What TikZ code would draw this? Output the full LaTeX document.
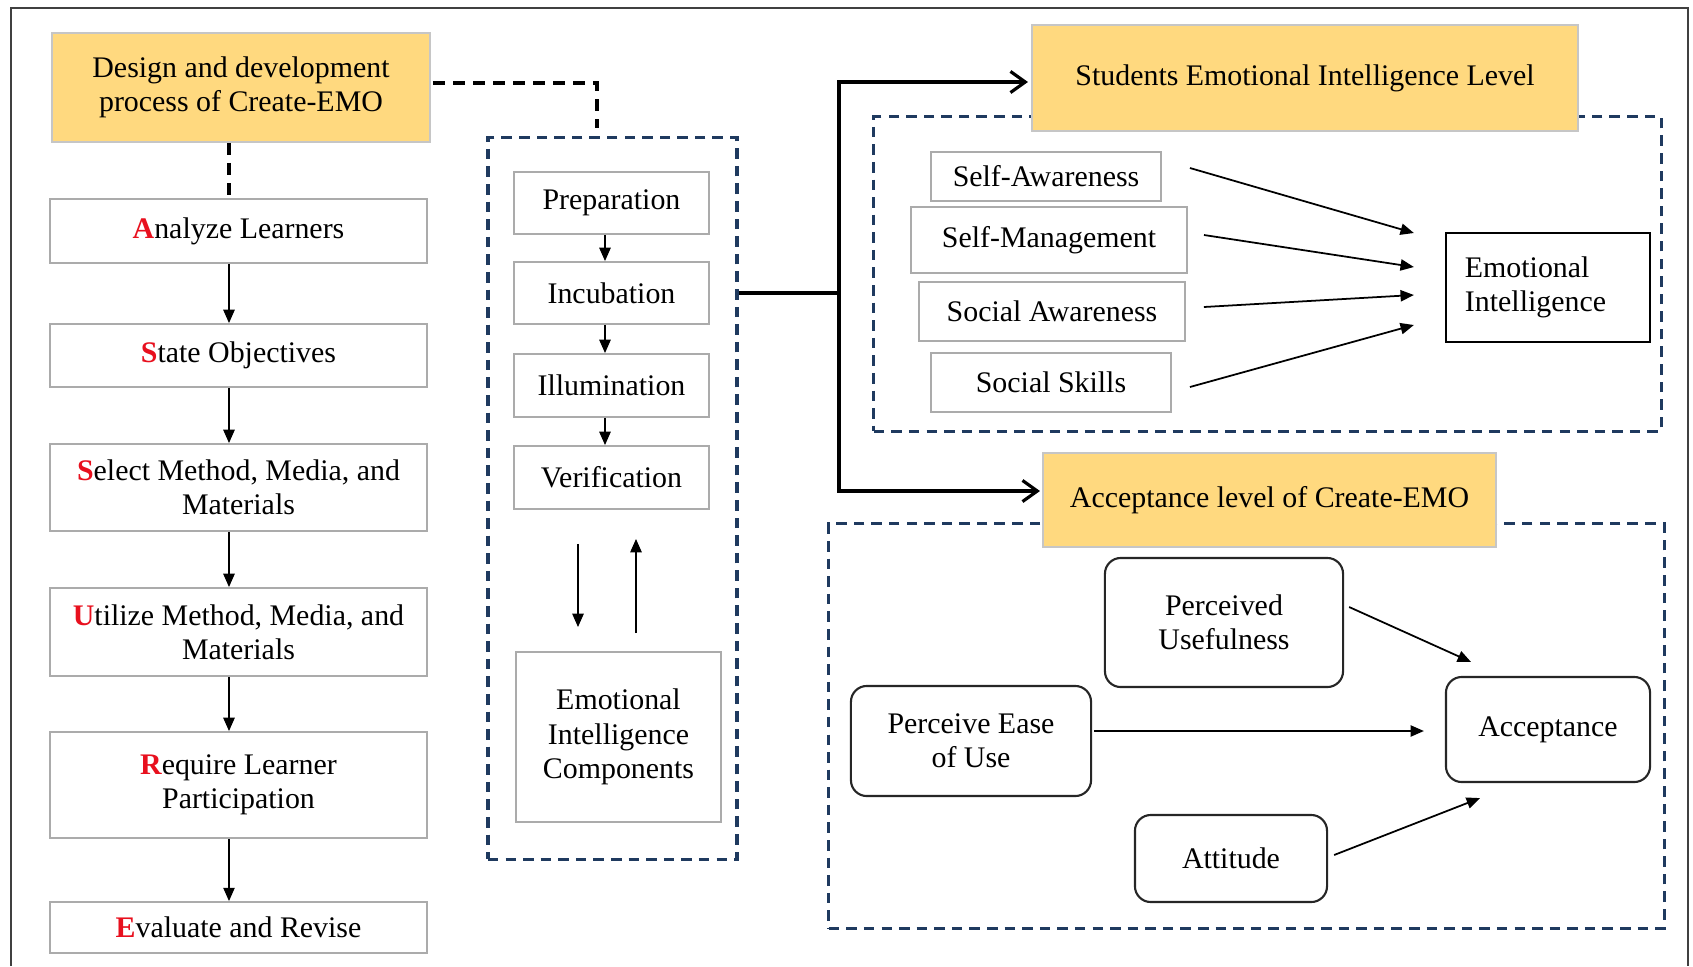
\documentclass[tikz,border=0pt]{standalone}
\usepackage{fontspec}
\setmainfont{Liberation Serif}
\usetikzlibrary{arrows.meta,calc}
\definecolor{gold}{HTML}{FFD97F}
\definecolor{navy}{HTML}{1F3A5F}
\definecolor{redA}{HTML}{E8101E}
\definecolor{boxgray}{HTML}{ABABAB}
\newcommand{\ri}[1]{\textbf{\color{redA}#1}}
\begin{document}
\begin{tikzpicture}[x=0.01cm,y=-0.01cm,
  font=\fontsize{8.5}{9.8}\selectfont,
  gbox/.style={draw=boxgray, line width=0.5pt, fill=white, inner sep=0pt, align=center},
  ybox/.style={draw=gray!45, line width=0.5pt, fill=gold, inner sep=0pt, align=center},
  rbox/.style={draw=black!85, line width=0.6pt, rounded corners=4.5pt, fill=white, inner sep=0pt, align=center},
  kbox/.style={draw=black, line width=0.6pt, fill=white, inner sep=0pt},
  navydash/.style={draw=navy, line width=0.9pt, dash pattern=on 3pt off 2pt, inner sep=0pt},
  arr/.style={-{Triangle[length=3.8pt,width=3.2pt]}, line width=0.5pt},
  thk/.style={line width=0.9pt},
  thkarr/.style={thk, -{Straight Barb[length=4.2pt,width=6pt]}},
  kdash/.style={line width=0.9pt, dash pattern=on 3.4pt off 2.3pt}]
\useasboundingbox (0,0) rectangle (1693,966);
% frame
\draw[line width=0.6pt, black!75] (11,966) -- (11,8) -- (1688,8) -- (1688,966);

% left column
\node[ybox, minimum width=3.78cm, minimum height=1.09cm] (design) at (241,87.5) {Design and development\\process of Create-EMO};
\node[gbox, minimum width=3.77cm, minimum height=0.64cm] (an) at (238.5,231) {\ri{A}nalyze Learners};
\node[gbox, minimum width=3.77cm, minimum height=0.63cm] (so) at (238.5,355.5) {\ri{S}tate Objectives};
\node[gbox, minimum width=3.77cm, minimum height=0.87cm] (sm1) at (238.5,487.5) {\ri{S}elect Method, Media, and\\Materials};
\node[gbox, minimum width=3.77cm, minimum height=0.88cm] (um) at (238.5,632) {\ri{U}tilize Method, Media, and\\Materials};
\node[gbox, minimum width=3.77cm, minimum height=1.06cm] (rl) at (238.5,785) {\ri{R}equire Learner\\Participation};
\node[gbox, minimum width=3.77cm, minimum height=0.51cm] (er) at (238.5,927.5) {\ri{E}valuate and Revise};
\coordinate (lx) at (229,0);
\draw[kdash] (design.south -| lx) -- (an.north -| lx);
\draw[arr] (an.south -| lx) -- (so.north -| lx);
\draw[arr] (so.south -| lx) -- (sm1.north -| lx);
\draw[arr] (sm1.south -| lx) -- (um.north -| lx);
\draw[arr] (um.south -| lx) -- (rl.north -| lx);
\draw[arr] (rl.south -| lx) -- (er.north -| lx);

% middle
\node[navydash, minimum width=2.49cm, minimum height=7.21cm] (mid) at (612.5,498.5) {};
\coordinate (dx) at (597,128);
\draw[kdash] ($(design.east)+(2,-4.5)$) -| (dx);
\node[gbox, minimum width=1.95cm, minimum height=0.62cm] (prep) at (611.5,203) {Preparation};
\node[gbox, minimum width=1.95cm, minimum height=0.62cm] (incu) at (611.5,293) {Incubation};
\node[gbox, minimum width=1.95cm, minimum height=0.63cm] (illu) at (611.5,385.5) {Illumination};
\node[gbox, minimum width=1.95cm, minimum height=0.63cm] (veri) at (611.5,477.5) {Verification};
\node[gbox, minimum width=2.05cm, minimum height=1.70cm] (eic) at (618.5,737) {Emotional\\Intelligence\\Components};
\coordinate (mx) at (605,0);
\draw[arr] (prep.south -| mx) -- (incu.north -| mx);
\draw[arr] (incu.south -| mx) -- (illu.north -| mx);
\draw[arr] (illu.south -| mx) -- (veri.north -| mx);
\draw[arr] ($(veri.south)+(-33.5,34)$) -- ($(eic.north)+(-40.5,-24)$);
\draw[arr] ($(eic.north)+(17.5,-18)$) -- ($(veri.south)+(24.5,29)$);

% top right
\node[navydash, minimum width=7.87cm, minimum height=3.14cm] (ebox) at (1267.5,274) {};
\node[ybox, minimum width=5.46cm, minimum height=1.06cm] (sel) at (1305,78) {Students Emotional Intelligence Level};
\node[gbox, minimum width=2.30cm, minimum height=0.49cm] (sa) at (1046,176.5) {Self-Awareness};
\node[gbox, minimum width=2.76cm, minimum height=0.66cm] (sm) at (1049,240) {Self-Management};
\node[gbox, minimum width=2.66cm, minimum height=0.59cm] (soa) at (1052,311.5) {Social Awareness};
\node[gbox, minimum width=2.40cm, minimum height=0.59cm] (ss) at (1051,382.5) {Social Skills};
\node[kbox, minimum width=2.04cm, minimum height=1.09cm, text width=1.66cm, align=left] (ei) at (1548,287.5) {Emotional\\Intelligence};
\draw[arr] ($(sa.east)+(28,-8.5)$) -- ($(ei.west)+(-31,-54.5)$);
\draw[arr] ($(sm.east)+(16,-5)$) -- ($(ei.west)+(-31,-20.5)$);
\draw[arr] ($(soa.east)+(18,-4.5)$) -- ($(ei.west)+(-31,7.5)$);
\draw[arr] ($(ss.east)+(18,4.5)$) -- ($(ei.west)+(-31,37.5)$);

% bottom right
\node[navydash, minimum width=8.35cm, minimum height=4.04cm] (abox) at (1246.5,726) {};
\node[ybox, minimum width=4.53cm, minimum height=0.94cm] (acl) at (1269.5,500) {Acceptance level of Create-EMO};
\node[rbox, minimum width=2.38cm, minimum height=1.29cm] (pu) at (1224,622.5) {Perceived\\Usefulness};
\node[rbox, minimum width=2.40cm, minimum height=1.10cm] (peu) at (971,741) {Perceive Ease\\of Use};
\node[rbox, minimum width=2.04cm, minimum height=1.05cm] (acc) at (1548,729.5) {Acceptance};
\node[rbox, minimum width=1.92cm, minimum height=0.87cm] (att) at (1231,858.5) {Attitude};
\draw[arr] ($(pu.east)+(5,-15.5)$) -- ($(acc.north)+(-77,-14)$);
\draw[arr] ($(peu.east)+(2,-10)$) -- ($(acc.west)+(-21,1.5)$);
\draw[arr] ($(att.east)+(6,-3.5)$) -- ($(acc.south)+(-68,15)$);

% thick connectors
\coordinate (j) at (839,293);
\draw[thk] (mid.east |- incu) -- (j);
\draw[thkarr] (j) |- ($(sel.west)+(-3,4)$);
\draw[thkarr] (j) |- ($(acl.west)+(-2,-9)$);
\end{tikzpicture}
\end{document}
